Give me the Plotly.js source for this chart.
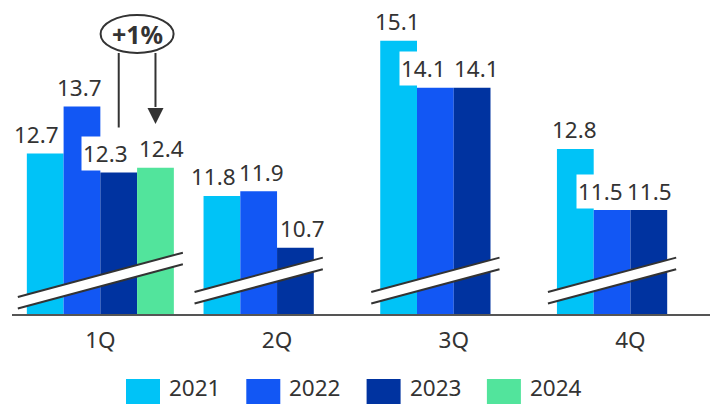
<!DOCTYPE html>
<html><head><meta charset="utf-8">
<script src="https://cdn.plot.ly/plotly-3.0.1.min.js"></script>
<style>html,body{margin:0;padding:0;background:#fff;overflow:hidden}#chart{width:710px;height:404px}</style>
</head><body><div id="chart"></div>
<script>
// ---- data ----
const quarters = ['1Q', '2Q', '3Q', '4Q'];
const years = ['2021', '2022', '2023', '2024'];
const v2021 = [12.7, 11.8, 15.1, 12.8];
const v2022 = [13.7, 11.9, 14.1, 11.5];
const v2023 = [12.3, 10.7, 14.1, 11.5];
const v2024 = [12.4, null, null, null];
const changeLabel = '+1%';

// ---- style ----
const series = [v2021, v2022, v2023, v2024];
const colors = ['#00c3f7', '#1257f4', '#0033a0', '#52e49c'];
const textColor = '#333333';
const FONT = '"Noto Sans", "Open Sans", sans-serif';
const FS = 22.5;
const W = 710, H = 404, ML = 12, MT = 0, MB = 90;
const PW = W - ML, PH = H - MT - MB;
const catPx = 176.7;
const yMin = 9.29, yMax = 15.966;
const bargap = 0.168;
const gw = 1 - bargap, bw = gw / 4;
const pxX = p => p / catPx;                       // px -> category units
const pxY = p => p * (yMax - yMin) / PH;          // px -> value units
const valAtPx = py => yMax - pxY(py - MT);        // absolute px -> value

// label nudges (px) for hand-placed labels
const nudge = [[-9, -8, -1, -1], [-2, 3, -12, -12], [-13, 7, 4, 1], [6, 0, 0, 0]];

const traces = series.map((vals, i) => ({
  type: 'bar', x: quarters, y: vals, name: years[i],
  marker: { color: colors[i], line: { width: 0 } },
  hoverinfo: 'skip', showlegend: false
}));

const shapes = [];
const annotations = [];

// bar value labels
series.forEach((vals, i) => {
  vals.forEach((v, k) => {
    if (v == null) return;
    annotations.push({
      xref: 'x', yref: 'y', x: k - gw / 2 + (i + 0.5) * bw, y: v,
      text: v.toFixed(1), showarrow: false, yanchor: 'middle',
      yshift: 19, xshift: nudge[i][k], bgcolor: '#ffffff', borderpad: 1,
      font: { family: FONT, size: FS, color: textColor }
    });
  });
});

// axis break marks
const slope = 0.268 * catPx / ((PH) / (yMax - yMin)); // value per category unit
const hb = pxY(5.8);
quarters.forEach((q, k) => {
  const n = series.filter(s => s[k] != null).length;
  const xa = k - gw / 2 - pxX(9);
  const xb = k - gw / 2 + n * bw + pxX(9);
  const xm = (xa + xb) / 2;
  const yc = 10.0;
  const ya = yc + slope * (xa - xm), yb = yc + slope * (xb - xm);
  shapes.push({
    type: 'path', xref: 'x', yref: 'y',
    path: `M${xa},${ya + hb} L${xb},${yb + hb} L${xb},${yb - hb} L${xa},${ya - hb} Z`,
    fillcolor: '#ffffff', line: { width: 0 }
  });
  [hb, -hb].forEach(d => shapes.push({
    type: 'line', xref: 'x', yref: 'y', x0: xa, y0: ya + d, x1: xb, y1: yb + d,
    line: { color: '#333333', width: 2 }
  }));
});

// +1% callout between 2023 and 2024 bars in 1Q
const xL = 0 - gw / 2 + 2.5 * bw, xR = 0 - gw / 2 + 3.5 * bw, xC = (xL + xR) / 2;
const eTop = valAtPx(15), eBot = valAtPx(53);
shapes.push({ type: 'circle', xref: 'x', yref: 'y', x0: xC - pxX(36.5), x1: xC + pxX(36.5),
  y0: eBot, y1: eTop, line: { color: '#333333', width: 2 } });
shapes.push({ type: 'line', xref: 'x', yref: 'y', x0: xL, x1: xL, y0: eBot, y1: valAtPx(127.5),
  line: { color: '#333333', width: 2 } });
const tipY = valAtPx(124), baseY = valAtPx(108);
shapes.push({ type: 'line', xref: 'x', yref: 'y', x0: xR, x1: xR, y0: eBot, y1: baseY + pxY(1),
  line: { color: '#333333', width: 2 } });
shapes.push({ type: 'path', xref: 'x', yref: 'y',
  path: `M${xR - pxX(8)},${baseY} L${xR + pxX(8)},${baseY} L${xR},${tipY} Z`,
  fillcolor: '#333333', line: { width: 0 } });
annotations.push({ xref: 'x', yref: 'y', x: xC, y: valAtPx(34), text: '<b>' + changeLabel + '</b>',
  showarrow: false, font: { family: FONT, size: 25, color: textColor } });

// custom legend
const legLeft = 126, legStep = 120.3;
const toPX = px => (px - ML) / PW;
const toPY = py => (MT + PH - py) / PH;
years.forEach((y, i) => {
  const x0 = legLeft + i * legStep;
  shapes.push({ type: 'rect', xref: 'paper', yref: 'paper', x0: toPX(x0), x1: toPX(x0 + 34),
    y0: toPY(406), y1: toPY(379), fillcolor: colors[i], line: { width: 0 } });
  annotations.push({ xref: 'paper', yref: 'paper', x: toPX(x0 + 42), y: toPY(404), xanchor: 'left',
    yanchor: 'bottom', borderpad: 0, text: y, showarrow: false,
    font: { family: FONT, size: FS, color: textColor } });
});

const layout = {
  width: W, height: H, margin: { l: ML, r: 0, t: MT, b: MB },
  paper_bgcolor: '#ffffff', plot_bgcolor: '#ffffff',
  barmode: 'group', bargap: bargap, bargroupgap: 0,
  showlegend: false, hovermode: false,
  font: { family: FONT, color: textColor },
  xaxis: { type: 'category', range: [-0.5, -0.5 + PW / catPx], showline: true, linecolor: '#555555',
    linewidth: 2, ticks: '', showgrid: false, zeroline: false, fixedrange: true,
    ticklabelstandoff: 5,
    tickfont: { family: FONT, size: FS, color: textColor } },
  yaxis: { range: [yMin, yMax], visible: false, showgrid: false, zeroline: false, fixedrange: true },
  shapes: shapes, annotations: annotations
};

Plotly.newPlot('chart', traces, layout, { displayModeBar: false, staticPlot: true });
</script></body></html>
